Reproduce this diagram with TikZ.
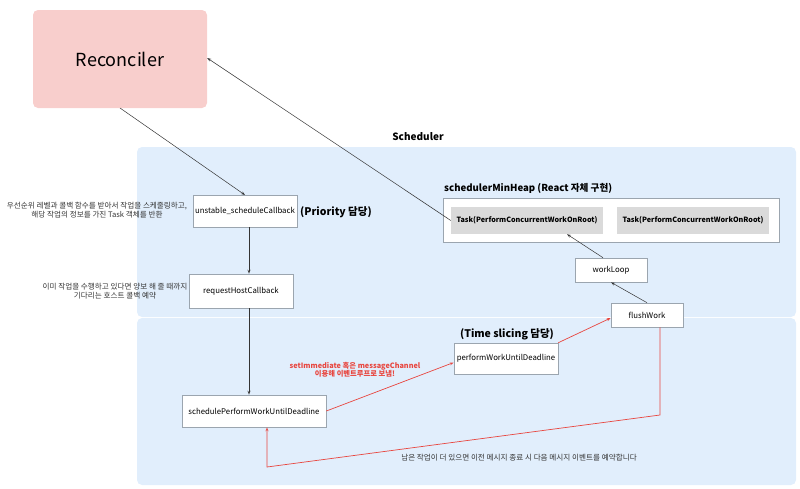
\documentclass[tikz,border=0pt]{standalone}
\usepackage{fontspec}
\setmainfont{Noto Sans CJK KR}
\usetikzlibrary{arrows.meta}
\definecolor{panel}{HTML}{E1EEFC}
\definecolor{recon}{HTML}{F8CECC}
\definecolor{taskg}{HTML}{DADADA}
\definecolor{bord}{HTML}{9BA5AF}
\definecolor{redl}{HTML}{E8463F}
\definecolor{darkl}{HTML}{333333}
\tikzset{
  fbox/.style={draw=bord, line width=0.6pt, fill=white, font=\fontsize{7.8}{9}\selectfont, inner sep=0pt},
  taskbox/.style={fill=taskg, font=\bfseries\fontsize{7.2}{8}\selectfont, inner sep=0pt, minimum width=152, minimum height=27},
  blk/.style={draw=darkl, line width=0.5pt, -{Stealth[length=4pt,width=3pt,open]}},
  red/.style={draw=redl, line width=0.7pt, -{Stealth[length=4pt,width=3pt,open]}},
  note/.style={font=\fontsize{7.6}{8.5}\selectfont, text=darkl, align=center, inner sep=0pt},
  boldlbl/.style={font=\bfseries\fontsize{10.5}{12}\selectfont, inner sep=0pt}
}
\begin{document}
\begin{tikzpicture}[x=1pt,y=-1pt]
\useasboundingbox (0,0) rectangle (800,488);
% panels
\fill[panel, rounded corners=5pt] (137,147) rectangle (796,317);
\fill[panel, rounded corners=5pt] (137,318) rectangle (796,485);
% Reconciler
\node[fill=recon, rounded corners=5pt, minimum width=174, minimum height=98, font=\fontsize{18}{20}\selectfont, inner sep=0pt] (rec) at (120,59) {Reconciler};
\node[font=\bfseries\fontsize{10}{12}\selectfont, inner sep=0pt] (sch) at (418,137) {Scheduler};
% boxes
\node[fbox, minimum width=104, minimum height=32] (usc) at (245,211) {unstable\_scheduleCallback};
\node[boldlbl, anchor=west] (prio) at (300,212) {(Priority 담당)};
\node[fbox, minimum width=104, minimum height=34] (rhc) at (241,291) {requestHostCallback};
\node[fbox, minimum width=144, minimum height=32] (spw) at (254,411) {schedulePerformWorkUntilDeadline};
\node[fbox, minimum width=104, minimum height=31] (pwd) at (506,358.5) {performWorkUntilDeadline};
\node[boldlbl] (tsl) at (507,334) {(Time slicing 담당)};
\node[fbox, minimum width=72, minimum height=24] (fw) at (647,315) {flushWork};
\node[fbox, minimum width=72, minimum height=24] (wl) at (611,270) {workLoop};
% heap
\node[draw=bord, line width=0.6pt, fill=white, minimum width=336, minimum height=44, inner sep=0pt] (heap) at (611,220) {};
\node[font=\bfseries\fontsize{9.6}{11}\selectfont, anchor=south west, inner sep=0pt] (heapt) at (444,194) {schedulerMinHeap (React 자체 구현)};
\node[taskbox] (t1) at (527,220.5) {Task(PerformConcurrentWorkOnRoot)};
\node[taskbox] (t2) at (693,220.5) {Task(PerformConcurrentWorkOnRoot)};
% notes
\node[note] (n1) at (97,210) {우선순위 레벨과 콜백 함수를 받아서 작업을 스케줄링하고,\\해당 작업의 정보를 가진 Task 객체를 반환};
\node[note] (n2) at (115,291) {이미 작업을 수행하고 있다면 양보 해 줄 때까지\\기다리는 호스트 콜백 예약};
\node[note, text=redl, font=\bfseries\fontsize{7.3}{8.3}\selectfont] (rn) at (355,370) {setImmediate 혹은 messageChannel\\이용해 이벤트루프로 보냄!};
\node[note] (n3) at (519,458) {남은 작업이 더 있으면 이전 메시지 종료 시 다음 메시지 이벤트를 예약합니다};
% arrows
\coordinate (recb) at (120,108);
\coordinate (usct) at (245,195);
\draw[blk] (recb) -- (usct);
\draw[blk] (t1.west) -- (rec.east |- 0,58);
\draw[blk] ([xshift=4pt]usc.south) -- ([xshift=8pt]rhc.north);
\draw[blk] ([xshift=8pt]rhc.south) -- ([xshift=-5pt]spw.north);
\draw[blk] ([xshift=-8pt]wl.north) -- ([xshift=40pt]t1.south);
\draw[blk] (fw.north) -- (wl.south);
\draw[red] (spw.east) -- ([yshift=-4pt]pwd.west);
\draw[red] (pwd.north east) -- ([yshift=-3pt]fw.west);
\coordinate (c1) at (660,415);
\coordinate (c2) at (267,467);
\draw[red] ([xshift=13pt]fw.south) -- (c1) -- (c2) -- ([xshift=13pt]spw.south);
\end{tikzpicture}
\end{document}
